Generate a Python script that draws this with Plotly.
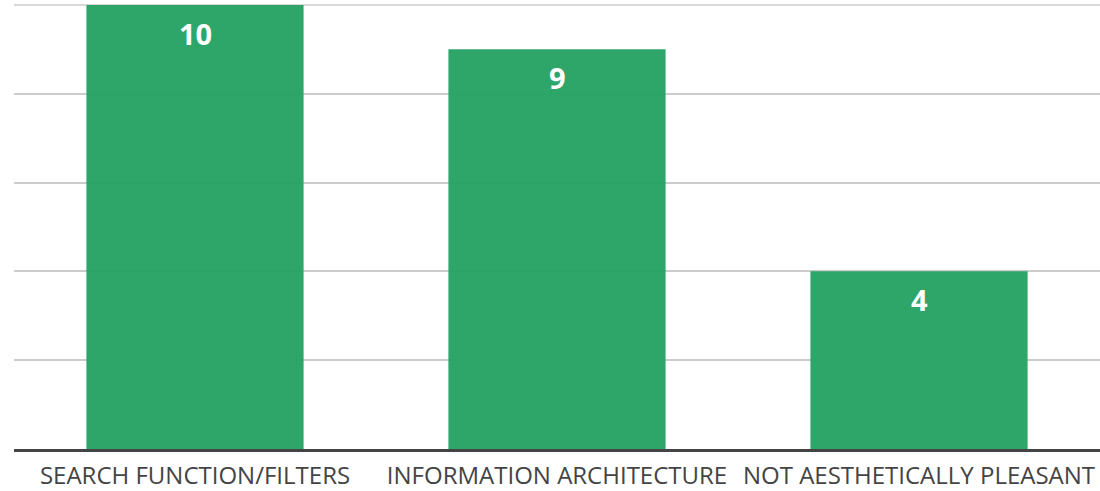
import plotly.graph_objects as go

categories = ["SEARCH FUNCTION/FILTERS", "INFORMATION ARCHITECTURE", "NOT AESTHETICALLY PLEASANT"]
values = [10, 9, 4]

fig = go.Figure()
fig.add_trace(go.Bar(
    x=categories, y=values,
    marker=dict(color="rgba(36,161,97,0.95)", line=dict(width=0)),
    hoverinfo="skip",
))
for c, v in zip(categories, values):
    fig.add_annotation(x=c, y=v, text="<b>%d</b>" % v, showarrow=False,
                       yanchor="top", yshift=-7,
                       font=dict(family="Open Sans", size=29, color="white"))

fig.add_shape(type="line", xref="paper", yref="y", x0=0, x1=1, y0=10, y1=10,
              line=dict(color="#cccccc", width=1.5), layer="below")

fig.update_layout(
    width=1100, height=491,
    margin=dict(l=14, r=0, t=4, b=42, autoexpand=False),
    paper_bgcolor="white", plot_bgcolor="white",
    bargap=0.4, showlegend=False,
    font=dict(family="Open Sans", color="#444"),
)
fig.update_xaxes(showline=True, linecolor="#444", linewidth=3,
                 tickfont=dict(family="Open Sans", size=24, color="#444"),
                 ticks="", showgrid=False, ticklabelstandoff=3)
fig.update_yaxes(range=[0, 10.02], tickvals=[2, 4, 6, 8, 10], showgrid=True,
                 gridcolor="#cccccc", gridwidth=1.5,
                 showticklabels=False, zeroline=False, ticks="")
fig.write_html("out.html", config={"displayModeBar": False},
               post_script="document.body.style.margin='0';document.body.style.overflow='hidden';")
